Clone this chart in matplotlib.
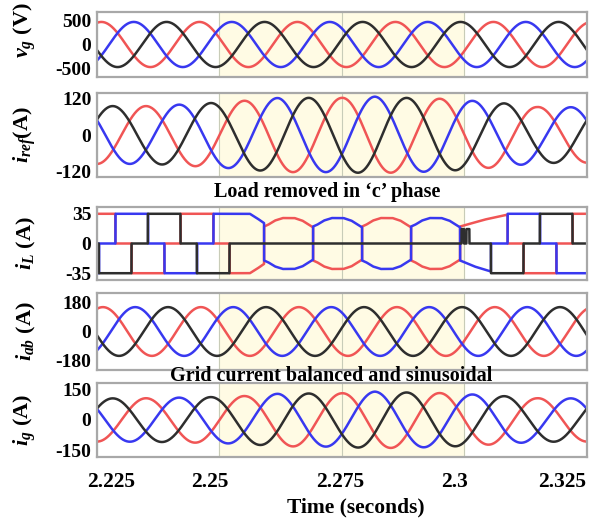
import numpy as np
import matplotlib.pyplot as plt
import matplotlib.transforms as mtransforms

plt.rcParams['font.family'] = 'Liberation Serif'
plt.rcParams['font.weight'] = 'bold'
plt.rcParams['mathtext.fontset'] = 'custom'
plt.rcParams['mathtext.it'] = 'Liberation Serif:italic:bold'
plt.rcParams['mathtext.rm'] = 'Liberation Serif:bold'

# ---- values ----
f_grid = 50.0
phases = ['red', 'blue', 'black']
colors = {'red': '#f05555', 'blue': '#3838f0', 'black': '#2e2e2e'}

# grid voltage: peak amplitude and time of each phase's peak
vg_amp = 465
vg_peak = {'red': 2.2259, 'blue': 2.2325, 'black': 2.2392}

# reference current: peak times and amplitude envelope
iref_peak = {'black': 2.2282, 'red': 2.2350, 'blue': 2.2417}
env_t = [2.225, 2.236, 2.242, 2.2494, 2.2555, 2.2622, 2.2748, 2.2817, 2.2878, 2.2941, 2.301, 2.3081, 2.3148, 2.325]
iref_env = [95, 95, 100, 106, 113, 122, 122, 126, 122, 120, 113, 104, 92, 91]

# inverter current
iab_amp = 152
iab_peak = {'red': 2.2262, 'blue': 2.2328, 'black': 2.2395}

# grid current
ig_peak = {'black': 2.2282, 'red': 2.2350, 'blue': 2.2417}
ig_env = [105, 106, 109, 112, 117, 128, 130, 138, 134, 132, 125, 116, 106, 105]

# load current (rectifier): level and centre of each positive pulse
il_level = 35
il_center = {'red': 2.2254, 'blue': 2.2321, 'black': 2.2387}
t_remove = 2.2521           # phase c load removed
trans1_t = [2.2521, 2.2562, 2.2576, 2.2591]
trans1_m = [35, 35, 30, 24]
swap_t = [2.2591, 2.2691, 2.2791, 2.2891, 2.2991]
bottle_u = [0, 0.08, 0.22, 0.38, 0.62, 0.78, 0.92, 1]
bottle_m = [20, 22, 27, 30, 30, 27, 22, 19]
rest_red_t = [2.2991, 2.3010, 2.3040, 2.3079, 2.3088]
rest_red_m = [20, 23, 28, 33, 34]
rest_blue_t = [2.2991, 2.3020, 2.3054]
rest_blue_m = [20, 27, 33]
glitch_t = [(2.2994, 2.2999), (2.3004, 2.3010)]
glitch_m = 17

t = np.linspace(2.225, 2.325, 8001)
w = 2 * np.pi * f_grid


def sine(peak, amp):
    return amp * np.cos(w * (t - peak))


def rectifier(tc):
    th = np.mod(w * (t - tc) + np.pi, 2 * np.pi) - np.pi
    out = np.zeros_like(t)
    out[np.abs(th) <= np.pi / 3] = il_level
    out[np.abs(th) >= 2 * np.pi / 3] = -il_level
    return out


iL = {p: rectifier(il_center[p]) for p in phases}
# unbalanced part: phase c off, a and b share the current
m = (t >= t_remove) & (t < swap_t[0])
iL['black'][t >= t_remove] = 0
mag = np.interp(t[m], trans1_t, trans1_m)
iL['red'][m] = -mag
iL['blue'][m] = mag
for k in range(len(swap_t) - 1):
    m = (t >= swap_t[k]) & (t < swap_t[k + 1])
    u = (t[m] - swap_t[k]) / (swap_t[k + 1] - swap_t[k])
    mag = np.interp(u, bottle_u, bottle_m)
    s = 1 if k % 2 == 0 else -1
    iL['red'][m] = s * mag
    iL['blue'][m] = -s * mag
# restoration
m = (t >= rest_red_t[0]) & (t < rest_red_t[-1])
iL['red'][m] = np.interp(t[m], rest_red_t, rest_red_m)
m = (t >= rest_blue_t[0]) & (t < rest_blue_t[-1])
iL['blue'][m] = -np.interp(t[m], rest_blue_t, rest_blue_m)
iL['blue'][(t >= rest_blue_t[-1]) & (t < rest_red_t[-1])] = 0
blk = rectifier(il_center['black'])
m = t >= rest_blue_t[-1]
iL['black'][m] = blk[m]
for a, b in glitch_t:
    iL['black'][(t >= a) & (t < b)] = glitch_m

iref_a = np.interp(t, env_t, iref_env)
ig_a = np.interp(t, env_t, ig_env)

panels = [
    (r'$v_g$ (V)', {p: sine(vg_peak[p], vg_amp) for p in phases}, (-670, 670), [-500, 0, 500], 0.72),
    (r'$i_{ref}$(A)', {p: sine(iref_peak[p], iref_a) for p in phases}, (-138, 138), [-120, 0, 120], 0.5),
    (r'$i_L$ (A)', iL, (-43, 43), [-35, 0, 35], 0.5),
    (r'$i_{ab}$ (A)', {p: sine(iab_peak[p], iab_amp) for p in phases}, (-240, 240), [-180, 0, 180], 0.5),
    (r'$i_g$ (A)', {p: sine(ig_peak[p], ig_a) for p in phases}, (-180, 180), [-150, 0, 150], 0.5),
]

# axes boxes in pixels (top, bottom) of a 594x519 image
boxes = [(12, 77), (93, 177), (207, 280), (293, 370), (383, 457)]

fig = plt.figure(figsize=(5.94, 5.19), dpi=100)
axes = []
for (label, data, ylim, yt, ly), (top, bot) in zip(panels, boxes):
    ax = fig.add_axes([97 / 594, 1 - bot / 519, 490 / 594, (bot - top) / 519])
    ax.axvspan(2.25, 2.3, color='#fffbe4', zorder=0)
    for p in phases:
        ax.plot(t, data[p], color=colors[p], lw=1.8, zorder=2)
    ax.set_xlim(2.225, 2.325)
    ax.set_ylim(*ylim)
    ax.set_yticks(yt)
    ax.set_yticklabels([str(v) for v in yt], fontsize=14, fontweight='bold')
    ax.set_xticks([2.225, 2.25, 2.275, 2.3, 2.325])
    ax.grid(axis='x', color='#c8ccb8', lw=0.8)
    ax.tick_params(length=0, pad=4)
    for sp in ax.spines.values():
        sp.set_color('#a8a8a8')
        sp.set_linewidth(1.6)
    ax.set_ylabel(label, fontsize=16, fontweight='bold')
    ax.yaxis.set_label_coords(-0.12, ly)
    axes.append(ax)

for ax in axes[:-1]:
    ax.set_xticklabels([])
axes[-1].set_xticklabels(['2.225', '2.25', '2.275', '2.3', '2.325'], fontsize=15.5, fontweight='bold')
axes[-1].tick_params(axis='x', pad=11)
# labels in the picture sit a little off the grid lines
for lab, dx in zip(axes[-1].get_xticklabels(), [14, -10, -2, -10, -25]):
    lab.set_transform(lab.get_transform() + mtransforms.ScaledTranslation(dx / 100, 0, fig.dpi_scale_trans))
axes[-1].set_xlabel('Time (seconds)', fontsize=15.5, fontweight='bold')
axes[-1].xaxis.label.set_va('center')
axes[-1].xaxis.set_label_coords(0.529, -0.676)

fig.text(327 / 594, 1 - 192 / 519, 'Load removed in \u2018c\u2019 phase', ha='center', va='center',
         fontsize=14.5, fontweight='bold')
fig.text(331 / 594, 1 - 376 / 519, 'Grid current balanced and sinusoidal', ha='center', va='center',
         fontsize=14.5, fontweight='bold')

fig.savefig('out.png', dpi=100)
